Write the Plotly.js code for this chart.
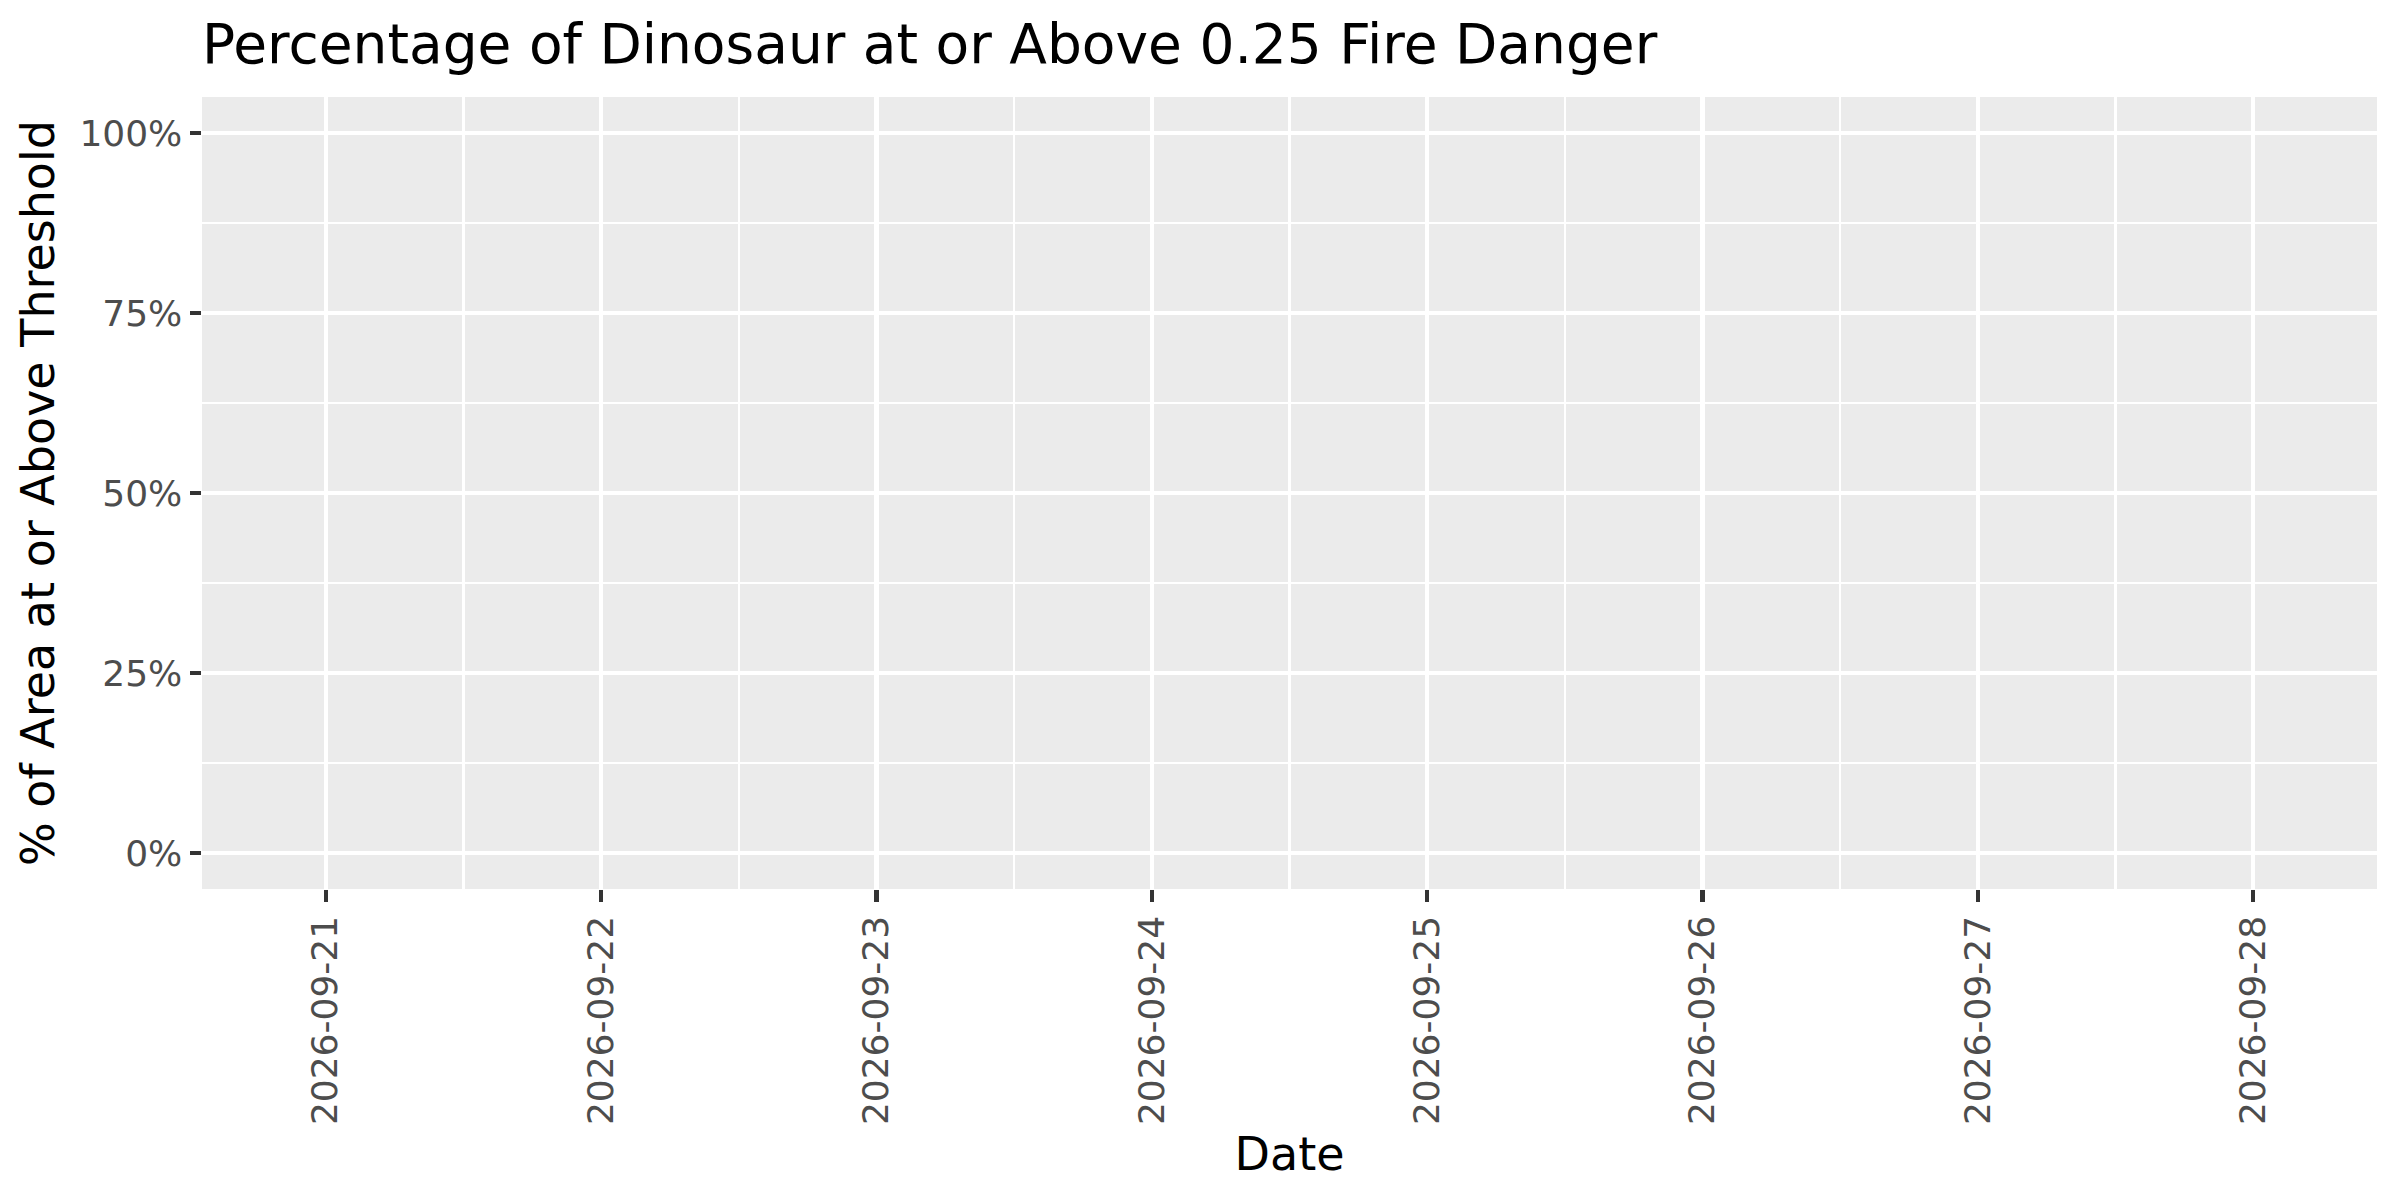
<!DOCTYPE html>
<html>
<head>
<meta charset="utf-8">
<script src="https://cdn.plot.ly/plotly-3.0.1.min.js"></script>
<style>
  html, body { margin: 0; padding: 0; background: #ffffff; }
  #grafico { width: 2400px; height: 1200px; }
</style>
</head>
<body>
<div id="grafico"></div>
<script>
// datos: no hay valores visibles en el grafico
var fechas = ["2026-09-21", "2026-09-22", "2026-09-23", "2026-09-24",
              "2026-09-25", "2026-09-26", "2026-09-27", "2026-09-28"];
var porcentaje = [null, null, null, null, null, null, null, null];

var ticks_y = [0, 0.25, 0.5, 0.75, 1];
var etiquetas_y = ["0%", "25%", "50%", "75%", "100%"];
var menores_y = [0.125, 0.375, 0.625, 0.875];
var menores_x = ["2026-09-21 12:00", "2026-09-22 12:00", "2026-09-23 12:00", "2026-09-24 12:00",
                 "2026-09-25 12:00", "2026-09-26 12:00", "2026-09-27 12:00"];

var trace1 = {
  x: fechas,
  y: porcentaje,
  type: 'scatter',
  mode: 'lines',
  line: { color: '#F8766D', width: 4 },
  showlegend: false,
  hoverinfo: 'skip'
};

var layout = {
  width: 2400,
  height: 1200,
  paper_bgcolor: '#FFFFFF',
  plot_bgcolor: '#EBEBEB',
  font: { family: 'DejaVu Sans', color: '#000000' },
  margin: { l: 202, r: 23, t: 97, b: 311 },
  showlegend: false,
  title: {
    text: 'Percentage of Dinosaur at or Above 0.25 Fire Danger',
    font: { family: 'DejaVu Sans', size: 55, color: '#000000' },
    xref: 'paper', x: 0, xanchor: 'left',
    yref: 'container', y: 0.9633, yanchor: 'middle'
  },
  xaxis: {
    type: 'date',
    range: ['2026-09-20 13:13', '2026-09-28 10:47'],
    tickmode: 'array',
    tickvals: fechas,
    ticktext: fechas,
    tickangle: -90,
    ticks: 'outside',
    ticklen: 11.5,
    tickwidth: 4.4,
    tickcolor: '#333333',
    tickfont: { family: 'DejaVu Sans', size: 36, color: '#4D4D4D' },
    showgrid: true,
    gridcolor: '#FFFFFF',
    gridwidth: 4.4,
    minor: { tickmode: 'array', tickvals: menores_x, showgrid: true, gridcolor: '#FFFFFF', gridwidth: 2.2, ticks: '' },
    showline: false,
    zeroline: false,
    automargin: false,
    title: { text: 'Date', font: { family: 'DejaVu Sans', size: 46, color: '#000000' }, standoff: 13 }
  },
  yaxis: {
    range: [-0.05, 1.05],
    tickmode: 'array',
    tickvals: ticks_y,
    ticktext: etiquetas_y,
    ticks: 'outside',
    ticklen: 11.5,
    tickwidth: 4.4,
    tickcolor: '#333333',
    tickfont: { family: 'DejaVu Sans', size: 36, color: '#4D4D4D' },
    showgrid: true,
    gridcolor: '#FFFFFF',
    gridwidth: 4.4,
    minor: { tickmode: 'array', tickvals: menores_y, showgrid: true, gridcolor: '#FFFFFF', gridwidth: 2.2, ticks: '' },
    showline: false,
    zeroline: false,
    automargin: false,
    title: { text: '% of Area at or Above Threshold', font: { family: 'DejaVu Sans', size: 46, color: '#000000' }, standoff: 10 }
  }
};

Plotly.newPlot("grafico", [trace1], layout, { displayModeBar: false, staticPlot: true });
</script>
</body>
</html>
